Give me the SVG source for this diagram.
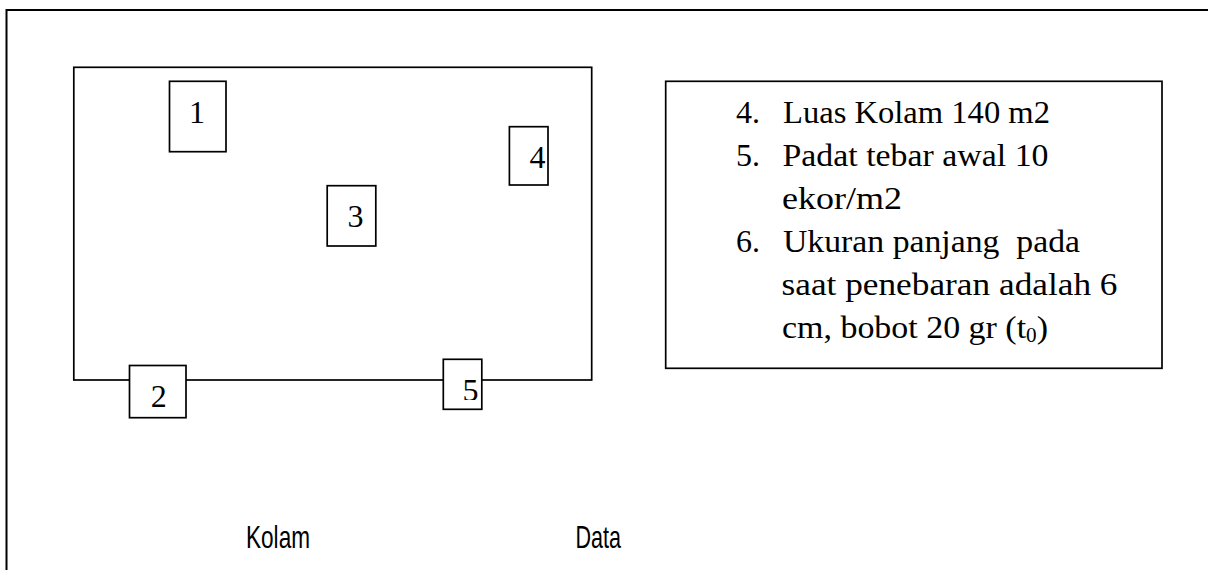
<svg xmlns="http://www.w3.org/2000/svg" width="1208" height="570" viewBox="0 0 1208 570">
  <style>
    .ln { fill: none; stroke: #000; stroke-width: 1.7; }
    .bx { fill: #fff; stroke: #000; stroke-width: 1.7; }
    .num { font-family: "Liberation Serif", "Times New Roman", serif; font-size: 32px; fill: #000; }
    .dt { font-family: "Liberation Serif", "Times New Roman", serif; font-size: 32px; fill: #000; }
    .cap { font-family: "Liberation Sans", Arial, sans-serif; font-size: 30.5px; fill: #000; }
  </style>
  <defs>
    <clipPath id="clip5">
      <rect x="443" y="359" width="39" height="41"/>
    </clipPath>
  </defs>
  <rect width="1208" height="570" fill="#fff"/>

  <!-- outer frame -->
  <path d="M6.5,570 V10 H1208" fill="none" stroke="#000" stroke-width="2"/>

  <g id="kolam">
    <rect class="ln" x="73.8" y="67.3" width="517.9" height="312.7"/>
  </g>

  <g id="node1">
    <rect class="bx" x="169.5" y="81.3" width="56.5" height="70.4"/>
    <text class="num" x="189" y="122.7">1</text>
  </g>
  <g id="node4">
    <rect class="bx" x="509.4" y="126.7" width="38.6" height="58.3"/>
    <text class="num" x="529.5" y="167.7">4</text>
  </g>
  <g id="node3">
    <rect class="bx" x="327.2" y="185.7" width="48.6" height="60.3"/>
    <text class="num" x="347.5" y="226.7">3</text>
  </g>
  <g id="node2">
    <rect class="bx" x="129.5" y="365.5" width="56.5" height="52.2"/>
    <text class="num" x="150.7" y="406.7">2</text>
  </g>
  <g id="node5">
    <rect class="bx" x="443.3" y="359.3" width="38.5" height="50"/>
    <text class="num" x="462.5" y="401" clip-path="url(#clip5)">5</text>
  </g>

  <g id="data">
    <rect class="ln" x="665.7" y="81.3" width="496.3" height="287"/>
    <text class="dt" x="736" y="122.5">4.</text>
    <text class="dt" x="783" y="122.5" textLength="267" lengthAdjust="spacingAndGlyphs">Luas Kolam 140 m2</text>
    <text class="dt" x="736" y="165.6">5.</text>
    <text class="dt" x="782.5" y="165.6" textLength="266" lengthAdjust="spacingAndGlyphs">Padat tebar awal 10</text>
    <text class="dt" x="782" y="208.7" textLength="120" lengthAdjust="spacingAndGlyphs">ekor/m2</text>
    <text class="dt" x="736" y="251.8">6.</text>
    <text class="dt" x="783" y="251.8" textLength="297" lengthAdjust="spacingAndGlyphs" xml:space="preserve">Ukuran panjang  pada</text>
    <text class="dt" x="781.5" y="294.9" textLength="336" lengthAdjust="spacingAndGlyphs">saat penebaran adalah 6</text>
    <text class="dt" x="782" y="338" textLength="266" lengthAdjust="spacingAndGlyphs">cm, bobot 20 gr (t<tspan font-size="20" dy="4">0</tspan><tspan dy="-4">)</tspan></text>
  </g>

  <g id="labels">
    <text class="cap" x="246" y="548" textLength="64" lengthAdjust="spacingAndGlyphs">Kolam</text>
    <text class="cap" x="575.5" y="548" textLength="45.5" lengthAdjust="spacingAndGlyphs">Data</text>
  </g>
</svg>
